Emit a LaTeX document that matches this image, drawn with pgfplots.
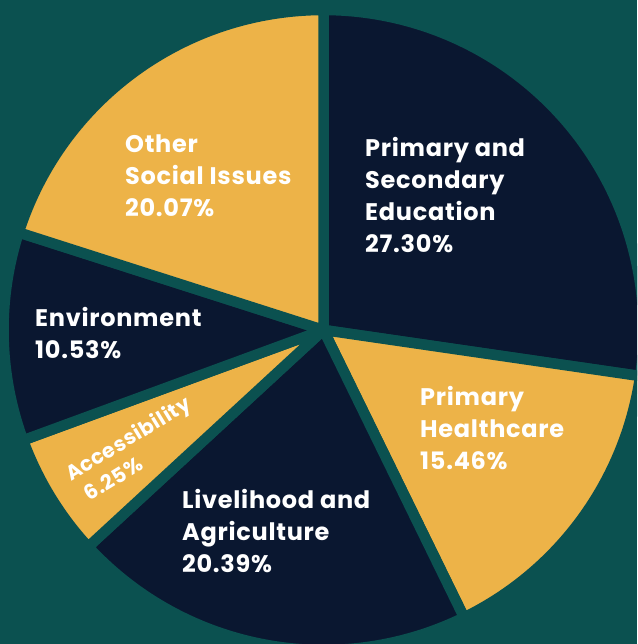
\documentclass[border=0pt]{standalone}
\usepackage{pgfplots}
\pgfplotsset{compat=1.18}
\usepackage{pgfplotstable}
\usepackage{fontspec}
\setmainfont{Poppins}[LetterSpace=3]
\definecolor{bg}{HTML}{0B5150}
\definecolor{slice1}{HTML}{0A1730}
\definecolor{slice2}{HTML}{EDB348}
\pgfplotstableread{
value col
27.30 1
15.46 2
20.39 1
6.25 2
10.53 1
20.07 2
}\piedata
\newcommand{\lbl}[3]{\node[anchor=base west, text=white, font=\fontsize{24}{32}\selectfont\bfseries, inner sep=0pt] at (axis cs:#1,#2) {#3};}
\begin{document}
\begin{tikzpicture}
\begin{axis}[x=1pt, y=1pt, xmin=0, xmax=637, ymin=0, ymax=644,
  hide axis, clip=true]
\fill[bg] (axis cs:0,0) rectangle (axis cs:637,644);
\pgfmathsetmacro\startang{90}
\pgfplotsforeachungrouped \i in {0,...,5}{%
  \pgfplotstablegetelem{\i}{value}\of\piedata
  \let\val\pgfplotsretval
  \pgfplotstablegetelem{\i}{col}\of\piedata
  \let\cc\pgfplotsretval
  \pgfmathsetmacro\endang{\startang-3.6*\val}%
  \edef\cmd{\noexpand\filldraw[fill=slice\cc, draw=bg, line width=10.5pt, line join=round]
    (axis cs:323.5,314) -- ++(\startang:320pt) arc[start angle=\startang, end angle=\endang, radius=320pt] -- cycle;}%
  \cmd
  \let\startang\endang
}
\lbl{365}{487}{Primary and}
\lbl{365}{455}{Secondary}
\lbl{365}{423}{Education}
\lbl{365}{391}{27.30\%}
\lbl{125}{491}{Other}
\lbl{125}{459}{Social Issues}
\lbl{125}{427}{20.07\%}
\lbl{420}{238}{Primary}
\lbl{420}{206}{Healthcare}
\lbl{420}{174}{15.46\%}
\lbl{182}{135}{Livelihood and}
\lbl{182}{103}{Agriculture}
\lbl{182}{71}{20.39\%}
\lbl{35}{317}{Environment}
\lbl{35}{285}{10.53\%}
\node[anchor=base west, text=white, font=\fontsize{20.5}{26}\selectfont\bfseries, inner sep=0pt, rotate=31.4] at (axis cs:71,162) {Accessibility};
\node[anchor=base west, text=white, font=\fontsize{20.5}{26}\selectfont\bfseries, inner sep=0pt, rotate=31.4] at (axis cs:89.5,142) {6.25\%};
\end{axis}
\end{tikzpicture}
\end{document}
